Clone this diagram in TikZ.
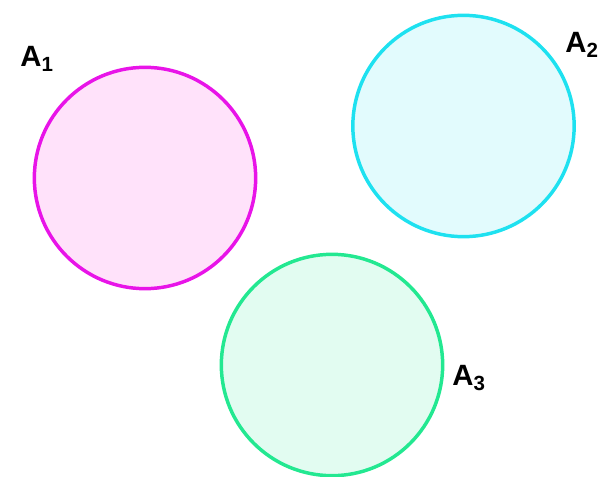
\documentclass[tikz,border=0pt]{standalone}
\usepackage{fontspec}
\setmainfont{Liberation Sans}
\usepackage{tikz}
\usetikzlibrary{positioning}

\definecolor{setpink}{RGB}{232,20,232}
\definecolor{setcyan}{RGB}{30,225,240}
\definecolor{setgreen}{RGB}{35,232,145}
\definecolor{pinkfill}{RGB}{255,226,250}

\tikzset{
    setdisk/.style={circle,line width=2.6pt,inner sep=0pt,minimum size=166pt},
    setname/.style={font=\fontsize{22}{26}\selectfont\bfseries,inner sep=0pt}
}

\begin{document}
\begin{tikzpicture}[x=0.75pt,y=-0.75pt]
        \useasboundingbox (0,0) rectangle (600,477);
        \node[setdisk,draw=setpink,fill=pinkfill] (a1) at (145,178) {};
        \node[setdisk,draw=setcyan,fill=setcyan!13] (a2) at (463.5,126) {};
        \node[setdisk,draw=setgreen,fill=setgreen!13] (a3) at (332,365) {};
        \node[setname] (l1) at (37,59) {A\textsubscript{1}};
        \node[setname] (l2) at (582,45) {A\textsubscript{2}};
        \node[setname] (l3) at (469,378) {A\textsubscript{3}};
    \end{tikzpicture}
\end{document}
